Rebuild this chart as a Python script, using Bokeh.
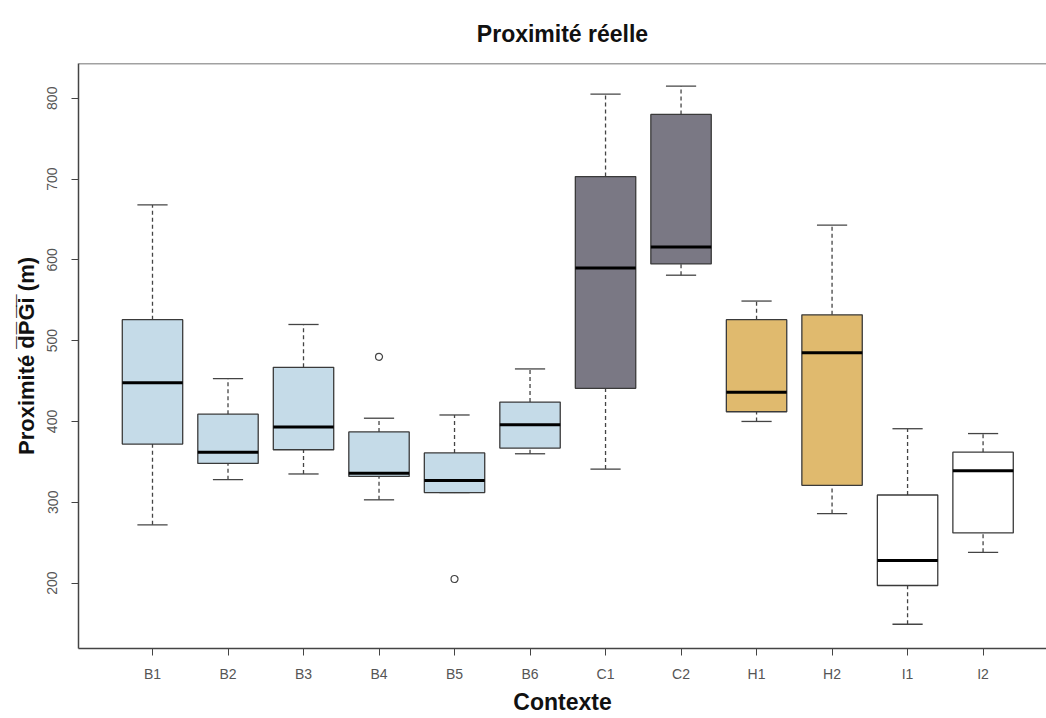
from bokeh.plotting import figure
from bokeh.models import Range1d, FixedTicker, Span, Title, ColumnDataSource
from bokeh.embed import file_html
from bokeh.resources import INLINE

# ---- data ----
cats = ["B1", "B2", "B3", "B4", "B5", "B6", "C1", "C2", "H1", "H2", "I1", "I2"]
groups = ["B", "B", "B", "B", "B", "B", "C", "C", "H", "H", "I", "I"]
lower = [272, 328, 335, 303, 312, 360, 341, 581, 400, 286, 149, 238]
q1 = [372, 348, 365, 332, 312, 367, 441, 595, 412, 321, 197, 262]
median = [448, 362, 393, 336, 327, 396, 590, 616, 436, 485, 228, 339]
q3 = [526, 409, 467, 387, 361, 424, 703, 780, 526, 532, 309, 362]
upper = [668, 453, 520, 404, 408, 465, 805, 815, 549, 643, 391, 385]
outlier_cats = ["B4", "B5"]
outlier_vals = [480, 205]
y_ticks = [200, 300, 400, 500, 600, 700, 800]

# ---- styles ----
group_colors = {"B": "#C5DBE8", "C": "#7A7884", "H": "#E0BA6E", "I": "#FFFFFF"}
FONT = "Liberation Sans"

xs = list(range(1, len(cats) + 1))
pos = {c: i for c, i in zip(cats, xs)}
boxw = 0.8
stw = 0.4

src = ColumnDataSource(dict(
    x=xs, lower=lower, q1=q1, median=median, q3=q3, upper=upper,
    left=[x - boxw / 2 for x in xs], right=[x + boxw / 2 for x in xs],
    sl=[x - stw / 2 for x in xs], sr=[x + stw / 2 for x in xs],
    color=[group_colors[g] for g in groups],
))

p = figure(width=1046, height=718, output_backend="svg", toolbar_location=None,
           x_range=Range1d(0.02, 12.84), y_range=Range1d(119, 843),
           min_border_left=78, min_border_right=0, min_border_top=63,
           min_border_bottom=70)
p.title = None
p.add_layout(Title(text="Proximité réelle", align="center",
                   text_font=FONT, text_font_size="23px", text_font_style="bold",
                   text_color="#111111", standoff=34), "above")
p.add_layout(Title(text="Proximité d\u0305P\u0305G\u0305i\u0305 (m)", align="center",
                   text_font=FONT, text_font_size="22px", text_font_style="bold",
                   text_color="#111111", standoff=12), "left")

p.background_fill_color = "white"
p.border_fill_color = "white"
p.outline_line_color = None
p.xgrid.visible = False
p.ygrid.visible = False

# whiskers (dashed)
p.segment(x0="x", y0="q3", x1="x", y1="upper", source=src, line_color="#444444",
          line_width=1.3, line_dash="4 3")
p.segment(x0="x", y0="lower", x1="x", y1="q1", source=src, line_color="#444444",
          line_width=1.3, line_dash="4 3")
# staples
p.segment(x0="sl", y0="upper", x1="sr", y1="upper", source=src, line_color="#444444", line_width=1.3)
p.segment(x0="sl", y0="lower", x1="sr", y1="lower", source=src, line_color="#444444", line_width=1.3)
# boxes
p.quad(left="left", right="right", bottom="q1", top="q3", source=src,
       fill_color="color", line_color="#3a3a3a", line_width=1.3)
# medians
p.segment(x0="left", y0="median", x1="right", y1="median", source=src,
          line_color="#000000", line_width=3)
# outliers
p.scatter([pos[c] for c in outlier_cats], outlier_vals, marker="circle", size=7,
          fill_color=None, line_color="#444444", line_width=1.2)

# top frame line
p.add_layout(Span(location=843, dimension="width", line_color="#444444", line_width=1.5))

# axes
p.xaxis.ticker = FixedTicker(ticks=xs)
p.xaxis.major_label_overrides = {x: c for x, c in zip(xs, cats)}
p.yaxis.ticker = FixedTicker(ticks=y_ticks)
p.yaxis.major_label_orientation = "vertical"
for ax in (p.xaxis[0], p.yaxis[0]):
    ax.axis_line_color = "#444444"
    ax.axis_line_width = 1.5
    ax.major_tick_line_color = "#444444"
    ax.major_tick_out = 7
    ax.major_tick_in = 0
    ax.minor_tick_line_color = None
    ax.major_label_text_font = FONT
    ax.major_label_text_font_size = "14px"
    ax.major_label_text_color = "#555555"
    ax.axis_label_text_font = FONT
    ax.axis_label_text_font_style = "bold"
    ax.axis_label_text_font_size = "23px"
    ax.axis_label_text_color = "#111111"
p.xaxis.major_label_standoff = 10
p.yaxis.major_label_standoff = 14
p.xaxis.axis_label = "Contexte"
p.xaxis.axis_label_standoff = 4

open("out.html", "w").write(file_html(p, INLINE))
